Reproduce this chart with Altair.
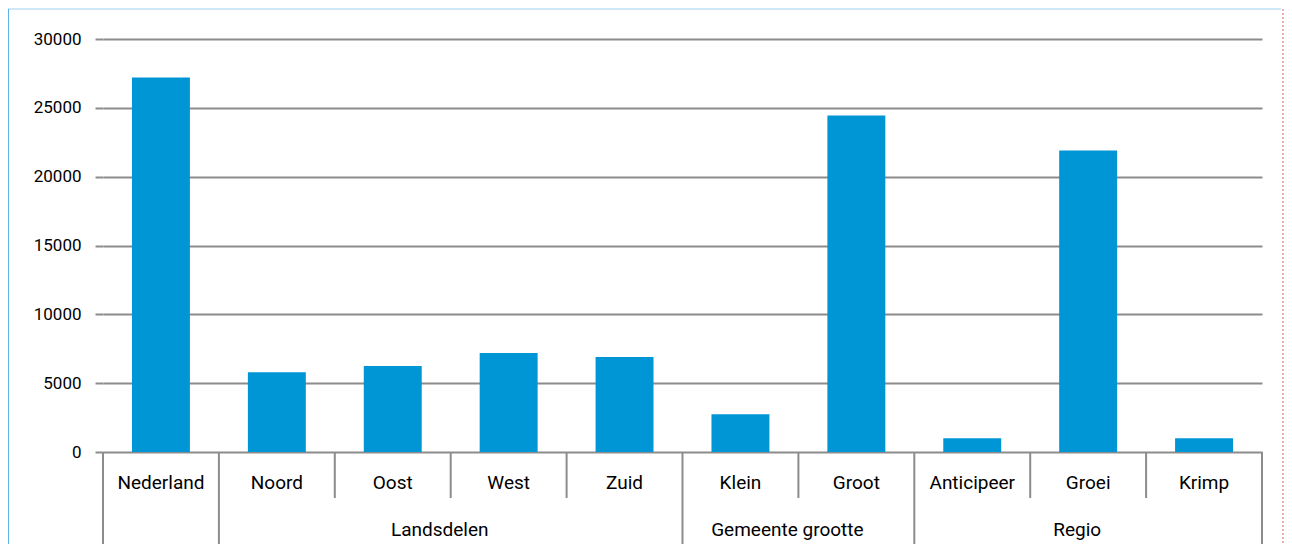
import altair as alt
import pandas as pd

categories = ["Nederland", "Noord", "Oost", "West", "Zuid", "Klein", "Groot",
              "Anticipeer", "Groei", "Krimp"]
values = [27200, 5800, 6250, 7200, 6900, 2750, 24450, 1000, 21900, 1000]
group_names = ["Landsdelen", "Gemeente grootte", "Regio"]
group_start = [1, 5, 7]
group_end = [5, 7, 10]
y_ticks = [0, 5000, 10000, 15000, 20000, 25000, 30000]

FONT = "Liberation Sans Narrow, Roboto, sans-serif"
GRID = "#8c8c8c"
BLUE = "#0096d6"

bars_df = pd.DataFrame({"idx": list(range(len(categories))),
                        "cat": categories, "value": values})
n = len(categories)
bounds = list(range(n + 1))
group_bounds = sorted(set([0] + group_start + group_end))
sep_df = pd.DataFrame({"b": bounds,
                       "long": [b in group_bounds for b in bounds]})
grp_df = pd.DataFrame({"name": group_names, "s": group_start, "e": group_end})

xscale = alt.Scale(domain=[0, n], nice=False, zero=False)
yscale = alt.Scale(domain=[0, 30000], nice=False)

bars = alt.Chart(bars_df).transform_calculate(
    x0="datum.idx + 0.25", x1="datum.idx + 0.75"
).mark_bar(color=BLUE).encode(
    x=alt.X("x0:Q", scale=xscale, axis=None),
    x2="x1:Q",
    y=alt.Y("value:Q", scale=yscale,
            axis=alt.Axis(values=y_ticks, format="d", grid=True, gridColor=GRID,
                          gridWidth=2, tickColor=GRID, tickWidth=2, tickSize=8,
                          domain=False, labelFontSize=17, labelFont=FONT,
                          labelColor="#000000", labelPadding=14, title=None)),
    y2=alt.datum(0),
)

labels1 = alt.Chart(bars_df).transform_calculate(
    xc="datum.idx + 0.5"
).mark_text(fontSize=19, font=FONT, color="#000000", baseline="middle").encode(
    x=alt.X("xc:Q", scale=xscale, axis=None),
    y=alt.value(444),
    text="cat:N",
)

labels2 = alt.Chart(grp_df).transform_calculate(
    xc="(datum.s + datum.e) / 2"
).mark_text(fontSize=19, font=FONT, color="#000000", baseline="middle", dx=-11).encode(
    x=alt.X("xc:Q", scale=xscale, axis=None),
    y=alt.value(491),
    text="name:N",
)

sep_short = alt.Chart(sep_df).transform_filter("!datum.long").mark_rule(
    color=GRID, strokeWidth=2).encode(
    x=alt.X("b:Q", scale=xscale, axis=None),
    y=alt.value(413), y2=alt.value(459))

sep_long = alt.Chart(sep_df).transform_filter("datum.long").mark_rule(
    color=GRID, strokeWidth=2).encode(
    x=alt.X("b:Q", scale=xscale, axis=None),
    y=alt.value(413), y2=alt.value(508))

frame_df = pd.DataFrame({"a": [0]})
frame_top = alt.Chart(frame_df).mark_rule(color="#9fd0ef", strokeWidth=1).encode(
    x=alt.value(-95), x2=alt.value(1178), y=alt.value(-30))
frame_left = alt.Chart(frame_df).mark_rule(color="#2a9ae0", strokeWidth=1.5).encode(
    x=alt.value(-95), y=alt.value(-30), y2=alt.value(509))
frame_right = alt.Chart(frame_df).mark_rule(color="#e06060", strokeWidth=1,
                                            strokeDash=[2, 2]).encode(
    x=alt.value(1180), y=alt.value(-30), y2=alt.value(509))

chart = alt.layer(
    bars, sep_short, sep_long, labels1, labels2, frame_top, frame_left, frame_right
).properties(
    width=1159, height=413,
    padding={"left": 95, "top": 31, "right": 22, "bottom": 92},
    autosize=alt.AutoSizeParams(type="none"),
    background="white",
).configure_view(stroke=None)

chart.save("out.html", embed_options={"renderer": "svg", "actions": False})
